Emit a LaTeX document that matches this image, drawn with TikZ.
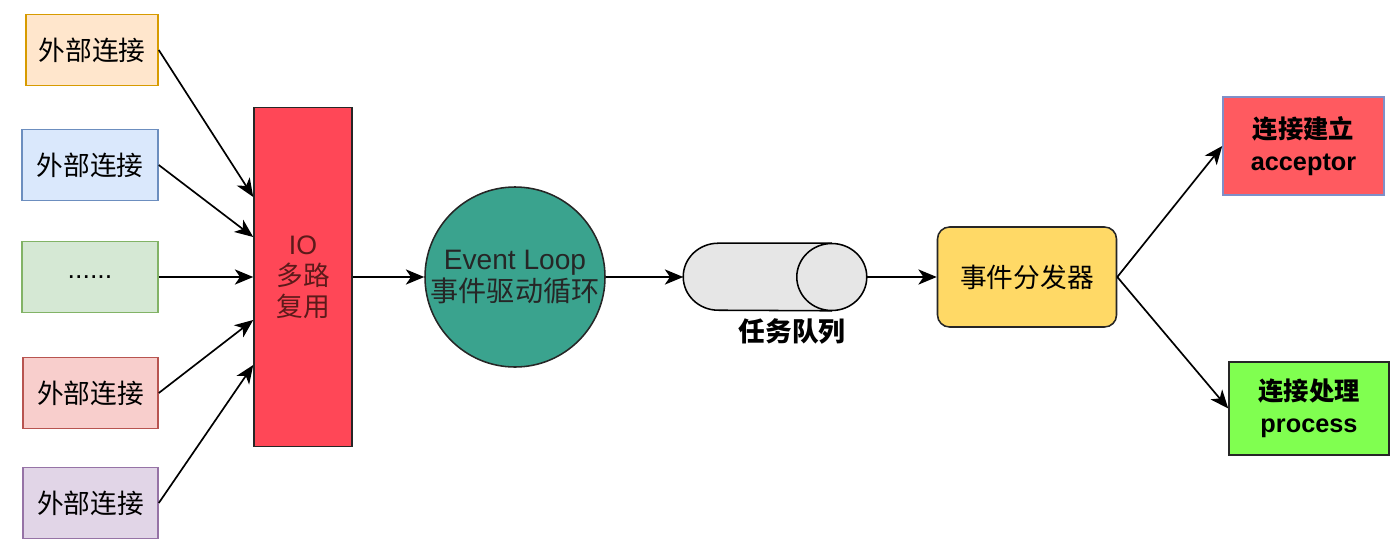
\documentclass[tikz,border=0pt]{standalone}
\usepackage{fontspec}
\setmainfont{Liberation Sans}
\newfontfamily\cjk{Noto Sans CJK SC}
\usetikzlibrary{arrows.meta}

\definecolor{orangefill}{HTML}{FFE6CC}\definecolor{orangeline}{HTML}{D79B00}
\definecolor{bluefill}{HTML}{DAE8FC}\definecolor{blueline}{HTML}{6C8EBF}
\definecolor{greenfill}{HTML}{D5E8D4}\definecolor{greenline}{HTML}{82B366}
\definecolor{redfill}{HTML}{F8CECC}\definecolor{redline}{HTML}{B85450}
\definecolor{purplefill}{HTML}{E1D5E7}\definecolor{purpleline}{HTML}{9673A6}
\definecolor{iored}{HTML}{FF4757}\definecolor{iotext}{HTML}{5C1A1A}
\definecolor{loopteal}{HTML}{3AA38E}
\definecolor{queuegray}{HTML}{E6E6E6}
\definecolor{dispyellow}{HTML}{FFD966}
\definecolor{accred}{HTML}{FF5A60}\definecolor{accline}{HTML}{7F8FC8}
\definecolor{procgreen}{HTML}{80FF50}

\begin{document}
\begin{tikzpicture}[x=0.25mm, y=-0.25mm,
  conn/.style={draw, line width=1.1pt, minimum width=34mm, minimum height=17.75mm,
    inner sep=0pt, font=\cjk\fontsize{19}{22}\selectfont},
  box/.style={draw=black!85, line width=1.1pt, inner sep=0pt, align=center},
  link/.style={draw, line width=1.2pt, -{Stealth[length=4.6mm,width=3.8mm,inset=1.3mm]}}]

\useasboundingbox (0,0) rectangle (1400,547);

\node[conn, fill=orangefill, draw=orangeline, minimum width=33mm] (ext1) at (92,50) {外部连接};
\node[conn, fill=bluefill, draw=blueline] (ext2) at (90,165) {外部连接};
\node[conn, fill=greenfill, draw=greenline, font=\fontsize{19}{22}\selectfont] (ext3) at (90,277) {......};
\node[conn, fill=redfill, draw=redline, minimum width=33.75mm] (ext4) at (90.5,393) {外部连接};
\node[conn, fill=purplefill, draw=purpleline, minimum width=33.75mm] (ext5) at (90.5,503) {外部连接};

\node[box, fill=iored, text=iotext, minimum width=24.5mm, minimum height=84.75mm,
  font=\fontsize{19}{22}\selectfont] (io) at (303,277) {IO\\{\cjk 多路}\\{\cjk 复用}};

\node[box, circle, fill=loopteal, text=black!85, minimum size=45mm,
  font=\fontsize{20}{23}\selectfont] (loop) at (515,277) {Event Loop\\{\cjk 事件驱动循环}};

\node[minimum width=45.75mm, minimum height=16.75mm, inner sep=0pt] (queue) at (775,277) {};
\path[draw, fill=queuegray, line width=1.1pt] ([xshift=-8.75mm]queue.north east)
  -- ([xshift=8.75mm]queue.north west)
  arc[start angle=90, end angle=270, x radius=8.75mm, y radius=8.375mm]
  -- ([xshift=-8.75mm]queue.south east);
\path[draw, fill=queuegray, line width=1.1pt] ([xshift=-8.75mm]queue.east)
  ellipse[x radius=8.75mm, y radius=8.375mm];
\node[font=\cjk\bfseries\fontsize{19}{22}\selectfont] (queuelabel) at (792,331) {任务队列};

\node[box, fill=dispyellow, rounded corners=3mm, minimum width=44.75mm, minimum height=25mm,
  font=\cjk\fontsize{19}{22}\selectfont] (disp) at (1027,277) {事件分发器};

\node[box, fill=accred, draw=accline, minimum width=40.25mm, minimum height=24.5mm,
  font=\bfseries\fontsize{18}{23}\selectfont] (acc) at (1303.5,146) {{\cjk 连接建立}\\acceptor};
\node[box, fill=procgreen, minimum width=40mm, minimum height=23.25mm,
  font=\bfseries\fontsize{18}{23}\selectfont] (proc) at (1309,408.5) {{\cjk 连接处理}\\process};

\path[link] (ext1.east) -- ([yshift=20mm]io.west);
\path[link] (ext2.east) -- ([yshift=10mm]io.west);
\path[link] (ext3.east) -- (io.west);
\path[link] (ext4.east) -- ([yshift=-10.75mm]io.west);
\path[link] (ext5.east) -- ([yshift=-22mm]io.west);

\path[link] (io.east) -- (loop.west);
\path[link] (loop.east) -- (queue.west);
\path[link] (queue.east) -- (disp.west);
\path[link] (disp.east) -- (acc.west);
\path[link] (disp.east) -- (proc.west);

\end{tikzpicture}
\end{document}
